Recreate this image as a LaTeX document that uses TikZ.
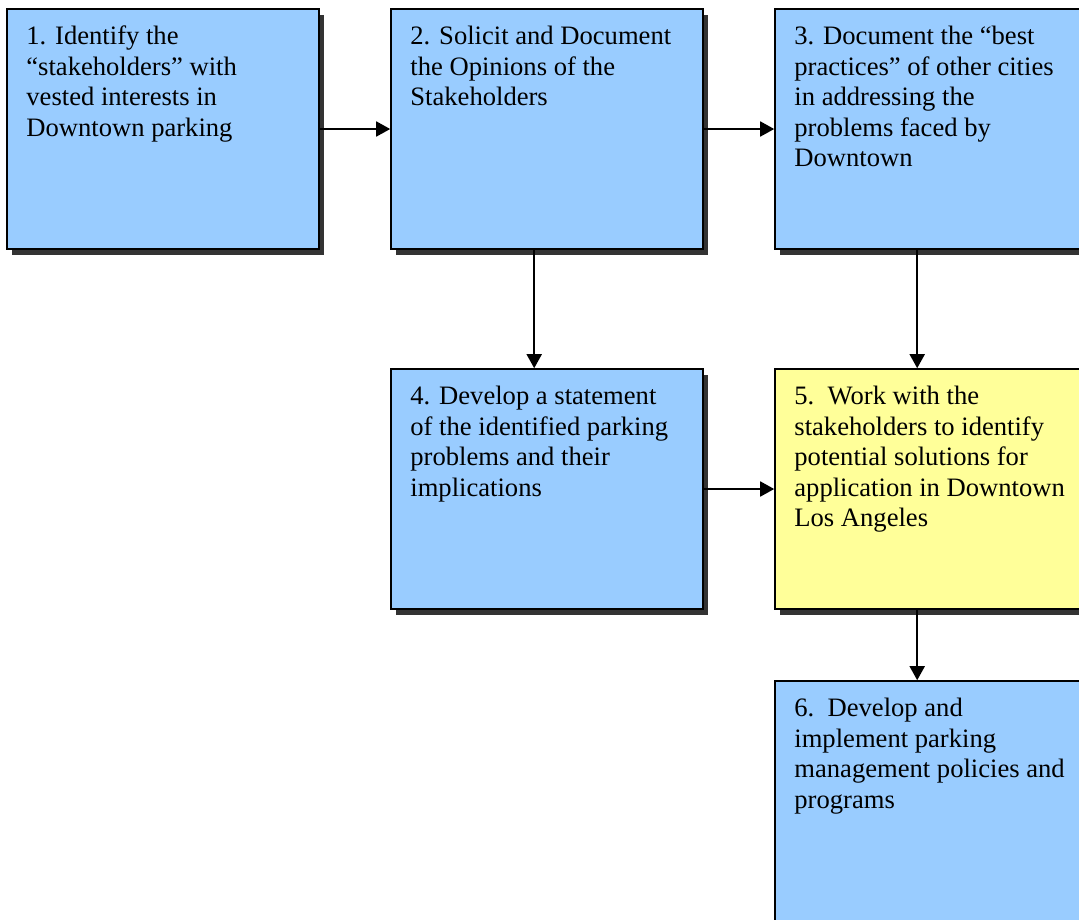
\documentclass[tikz,border=0pt]{standalone}
\usepackage{fontspec}
\setmainfont{Liberation Serif}
\usetikzlibrary{arrows.meta,shadows,calc}
\definecolor{stepblue}{HTML}{99CCFF}
\definecolor{stepyellow}{HTML}{FFFF99}
\definecolor{shadowgray}{HTML}{333333}
\tikzset{
  stepbox/.style={draw=black, line width=1.6pt, fill=stepblue,
    minimum width=312pt, minimum height=240pt, inner sep=0pt,
    drop shadow={shadow xshift=5pt, shadow yshift=-6pt, fill=shadowgray, opacity=1}},
  stepnote/.style={anchor=north west, inner sep=0pt, align=left,
    font=\fontsize{26.6}{30.6}\selectfont},
  flow/.style={line width=1.8pt, -{Triangle[length=14pt,width=15pt]}}
}
\newcommand{\lead}{\rule{0pt}{20pt}}
\begin{document}
\begin{tikzpicture}[x=1pt,y=-1pt]
\useasboundingbox (0,0) rectangle (1079,919);
\clip (0,0) rectangle (1079,919);

% step boxes
\node[stepbox] (b1) at (163,129) {};
\node[stepbox] (b2) at (547,129) {};
\node[stepbox] (b3) at (931,129) {};
\node[stepbox] (b4) at (547,489) {};
\node[stepbox, fill=stepyellow] (b5) at (931,489) {};
\node[stepbox] (b6) at (931,801) {};

% step texts
\node[stepnote] (t1) at ($(b1.north west)+(20,16)$) {\lead 1. Identify the\\“stakeholders” with\\vested interests in\\Downtown parking};
\node[stepnote] (t2) at ($(b2.north west)+(20,16)$) {\lead 2. Solicit and Document\\the Opinions of the\\Stakeholders};
\node[stepnote] (t3) at ($(b3.north west)+(20,16)$) {\lead 3. Document the “best\\practices” of other cities\\in addressing the\\problems faced by\\Downtown};
\node[stepnote] (t4) at ($(b4.north west)+(20,16)$) {\lead 4. Develop a statement\\of the identified parking\\problems and their\\implications};
\node[stepnote] (t5) at ($(b5.north west)+(20,16)$) {\lead 5.\hspace{0.5em}Work with the\\stakeholders to identify\\potential solutions for\\application in Downtown\\Los Angeles};
\node[stepnote] (t6) at ($(b6.north west)+(20,16)$) {\lead 6.\hspace{0.5em}Develop and\\implement parking\\management policies and\\programs};

% connectors
\draw[flow] (b1.east) -- (b2.west);
\draw[flow] (b2.east) -- (b3.west);
\draw[flow] ($(b2.south west)+(144,0)$) -- ($(b4.north west)+(144,0)$);
\draw[flow] ($(b3.south west)+(143,0)$) -- ($(b5.north west)+(143,0)$);
\draw[flow] (b4.east) -- (b5.west);
\draw[flow] ($(b5.south west)+(143,0)$) -- ($(b6.north west)+(143,0)$);
\end{tikzpicture}
\end{document}
